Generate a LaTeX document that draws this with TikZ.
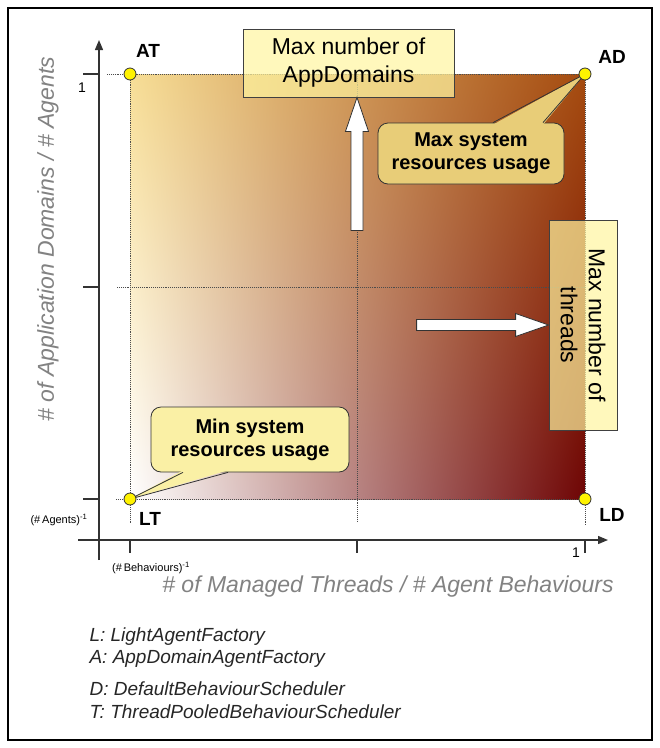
\documentclass[tikz,border=0pt]{standalone}
\usepackage{fontspec}
\setmainfont{Liberation Sans}
\usetikzlibrary{arrows.meta}
\usetikzlibrary{positioning}
\usetikzlibrary{shadings}
\definecolor{plotul}{RGB}{247,222,150}
\definecolor{plotur}{RGB}{165,75,15}
\definecolor{plotlr}{RGB}{110,5,5}
\definecolor{notefill}{RGB}{255,245,160}
\definecolor{maxfill}{RGB}{232,205,120}
\definecolor{minfill}{RGB}{250,240,165}
\definecolor{axgray}{RGB}{130,130,130}
\newcommand{\fsz}[2]{\fontsize{#1}{#2}\selectfont}
\tikzset{
    corner/.style = {circle, draw=black!80, fill=yellow, line width=0.8pt, minimum size=12pt, inner sep=0pt},
    cornerlbl/.style = {font=\fsz{19}{22}\bfseries},
    guide/.style = {densely dotted, draw=black!70, line width=0.9pt},
    axisline/.style = {draw=black!80, line width=1.4pt},
    axtick/.style = {draw=black!80, line width=1.2pt},
    notebox/.style = {rectangle, draw=black!75, line width=0.8pt, fill=notefill, fill opacity=0.7, text opacity=1, align=center, inner sep=0pt, font=\fsz{23}{28}},
    callbox/.style = {rectangle, rounded corners=10pt, draw=black!80, line width=0.8pt, align=center, inner sep=0pt, font=\fsz{20}{23}\bfseries},
    calledge/.style = {draw=black!80, line width=0.8pt, line join=miter},
    bigarrow/.style = {draw=black!80, fill=white, line width=0.8pt},
    axislbl/.style = {text=axgray, font=\fsz{23}{27}\itshape},
    legendtxt/.style = {anchor=base west, text=black!85, font=\fsz{19}{22}\itshape},
    smalllbl/.style = {font=\fsz{11}{13}},
    numlbl/.style = {font=\fsz{14}{16}}
}

\begin{document}
\begin{tikzpicture}[x=1pt,y=-1pt]
\useasboundingbox (0,0) rectangle (660,748);
\draw[line width=1.5pt] (8,8) rectangle (652,740);
% corners of the plot
\coordinate (pAT) at (130,74);
\coordinate (pAD) at (585,74);
\coordinate (pLT) at (130,499);
\coordinate (pLD) at (585,499);
\shade[upper left=plotul, upper right=plotur, lower left=white, lower right=plotlr] (pAT) rectangle (pLD);
%
\draw[guide] (107,74) -- (pAD);
\draw[guide] (116,499) -- (pLD);
\draw[guide] (117,287) -- (585,287);
\draw[guide] (pAT) -- (130,523);
\draw[guide] (pAD) -- (585,525);
\draw[guide] (357,74) -- (357,522);
%
\draw[axisline,-{Triangle[length=10pt,width=8pt]}] (99,560) -- (99,40);
\draw[axisline,-{Triangle[length=10pt,width=8pt]}] (78,540) -- (608,540);
\draw[axtick] (83,74) -- (99,74);
\draw[axtick] (83,287) -- (99,287);
\draw[axtick] (83,499) -- (99,499);
\draw[axtick] (130,540) -- (130,553);
\draw[axtick] (357,540) -- (357,553);
\draw[axtick] (585,540) -- (585,553);
%
\node[notebox, minimum width=211pt, minimum height=68pt] at (348.5,63) (appbox) {Max number of\\AppDomains};
\node[notebox, minimum width=210pt, minimum height=68pt, rotate=-90] at (583,325) (thrbox) {Max number of\\threads};
\draw[bigarrow] ([xshift=8.5pt]appbox.south) -- ++(11.5,34) -- ++(-5.5,0) -- ++(0,99) -- ++(-12,0) -- ++(0,-99) -- ++(-5.5,0) -- cycle;
\draw[bigarrow] (thrbox.south) -- ++(-33,-11.5) -- ++(0,6) -- ++(-99,0) -- ++(0,11) -- ++(99,0) -- ++(0,6) -- cycle;
%
\node[callbox, fill=maxfill, minimum width=186pt, minimum height=61pt] at (471,153.5) (maxcall) {Max system\\resources usage};
\fill[maxfill] ([xshift=22pt,yshift=-2pt]maxcall.north) -- (pAD) -- ([xshift=72pt,yshift=-2pt]maxcall.north) -- cycle;
\draw[calledge] ([xshift=22pt]maxcall.north) -- (pAD) -- ([xshift=72pt]maxcall.north);
\node[callbox, fill=minfill, minimum width=198pt, minimum height=65pt] at (250,439.5) (mincall) {Min system\\resources usage};
\fill[minfill] ([xshift=-67pt,yshift=2pt]mincall.south) -- (pLT) -- ([xshift=-22pt,yshift=2pt]mincall.south) -- cycle;
\draw[calledge] ([xshift=-67pt]mincall.south) -- (pLT) -- ([xshift=-22pt]mincall.south);
%
\node[corner] at (pAT) (AT) {};
\node[corner] at (pAD) (AD) {};
\node[corner] at (pLT) (LT) {};
\node[corner] at (pLD) (LD) {};
\node[cornerlbl] at (148,51) {AT};
\node[cornerlbl] at (612,57) {AD};
\node[cornerlbl] at (150,519) {LT};
\node[cornerlbl] at (612,515) {LD};
%
\node[numlbl] at (82,88) {1};
\node[numlbl] at (576,553) {1};
\node[smalllbl] at (59,520) {(\#\,Agents)\textsuperscript{-1}};
\node[smalllbl] at (151,568) {(\#\,Behaviours)\textsuperscript{-1}};
\node[axislbl] at (388,587) {\# of Managed Threads / \# Agent Behaviours};
\node[axislbl, rotate=90] at (48,239) {\# of Application Domains / \# Agents};
%
\node[legendtxt] at (86,641) {L: LightAgentFactory};
\node[legendtxt] at (86,663) {A: AppDomainAgentFactory};
\node[legendtxt] at (86,695) {D: DefaultBehaviourScheduler};
\node[legendtxt] at (86,718) {T: ThreadPooledBehaviourScheduler};
\end{tikzpicture}
\end{document}
